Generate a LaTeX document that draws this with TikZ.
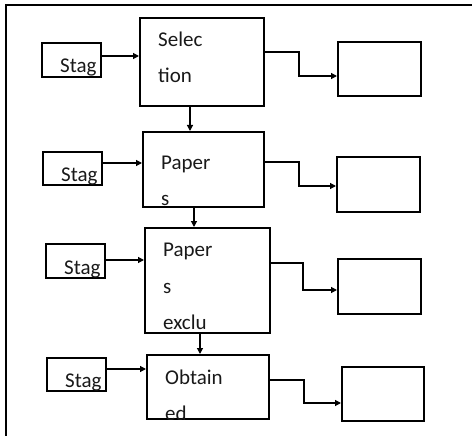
\documentclass[tikz,border=0pt]{standalone}
\usepackage{fontspec}
\setmainfont{Carlito}
\usetikzlibrary{arrows.meta}
\begin{document}
\begin{tikzpicture}[x=1pt,y=-1pt,
  box/.style={draw=black, line width=1.8pt, inner sep=0pt, anchor=north west},
  outbox/.style={draw=black, line width=1.6pt, inner sep=0pt, anchor=north west},
  lbl/.style={inner sep=0pt, anchor=base west, text=black!90,
    font=\fontsize{21}{25}\selectfont},
  arr/.style={draw=black, line width=1.2pt, -{Triangle[length=6pt,width=6pt]}},
  link/.style={draw=black, line width=1.2pt}]
\useasboundingbox (0,0) rectangle (472,436);

% outer frame (top and left edges)
\draw[line width=2pt] (6,437) -- (6,5) -- (473,5);

% stage boxes on the left
\node[box, minimum width=59pt, minimum height=34pt] (st1) at (41,42) {};
\node[box, minimum width=59pt, minimum height=33pt] (st2) at (42,151) {};
\node[box, minimum width=59pt, minimum height=34pt] (st3) at (45,243) {};
\node[box, minimum width=59pt, minimum height=33pt] (st4) at (46,357) {};

% main column
\node[box, minimum width=124pt, minimum height=88pt] (sel) at (139,17) {};
\node[box, minimum width=121pt, minimum height=75pt] (pap) at (142,131) {};
\node[box, minimum width=125pt, minimum height=105pt] (exc) at (144,227) {};
\node[box, minimum width=122pt, minimum height=64pt] (obt) at (146,354) {};

% result boxes on the right
\node[outbox, minimum width=83pt, minimum height=54pt] (r1) at (337,41) {};
\node[outbox, minimum width=83pt, minimum height=55pt] (r2) at (336,156) {};
\node[outbox, minimum width=83pt, minimum height=55pt] (r3) at (337,258) {};
\node[outbox, minimum width=82pt, minimum height=54pt] (r4) at (341,366) {};

% labels, cut off at the edges of their boxes
\begin{scope}
  \clip (st1.north west) rectangle (st1.south east);
  \node[lbl] (ts1) at (60,73) {Stag};
\end{scope}
\begin{scope}
  \clip (st2.north west) rectangle (st2.south east);
  \node[lbl] (ts2) at (61,182) {Stag};
\end{scope}
\begin{scope}
  \clip (st3.north west) rectangle (st3.south east);
  \node[lbl] (ts3) at (64,274) {Stag};
\end{scope}
\begin{scope}
  \clip (st4.north west) rectangle (st4.south east);
  \node[lbl] (ts4) at (65,387) {Stag};
\end{scope}
\begin{scope}
  \clip (sel.north west) rectangle (sel.south east);
  \node[lbl] (tsel1) at (158,47) {Selec};
  \node[lbl] (tsel2) at (158,83) {tion};
\end{scope}
\begin{scope}
  \clip (pap.north west) rectangle (pap.south east);
  \node[lbl] (tpap1) at (161,169) {Paper};
  \node[lbl] (tpap2) at (161,205) {s};
\end{scope}
\begin{scope}
  \clip (exc.north west) rectangle (exc.south east);
  \node[lbl] (texc1) at (163,256) {Paper};
  \node[lbl] (texc2) at (163,293) {s};
  \node[lbl] (texc3) at (163,329) {exclu};
\end{scope}
\begin{scope}
  \clip (obt.north west) rectangle (obt.south east);
  \node[lbl] (tobt1) at (165,384) {Obtain};
  \node[lbl] (tobt2) at (165,420) {ed};
\end{scope}

% stage -> main arrows
\coordinate (h1) at (0,56);
\coordinate (h2) at (0,163);
\coordinate (h3) at (0,260);
\coordinate (h4) at (0,369);
\draw[arr] (st1.east |- h1) -- (sel.west |- h1);
\draw[arr] (st2.east |- h2) -- (pap.west |- h2);
\draw[arr] (st3.east |- h3) -- (exc.west |- h3);
\draw[arr] (st4.east |- h4) -- (obt.west |- h4);

% arrows down the main column
\coordinate (v1) at (190,0);
\coordinate (v2) at (194,0);
\coordinate (v3) at (200,0);
\draw[arr] (v1 |- sel.south) -- (v1 |- pap.north);
\draw[arr] (v2 |- pap.south) -- (v2 |- exc.north);
\draw[arr] (v3 |- exc.south) -- (v3 |- obt.north);

% elbow connectors to the result boxes
\coordinate (k1a) at (299,52);  \coordinate (k1b) at (299,76);
\coordinate (k2a) at (299,162); \coordinate (k2b) at (299,186);
\coordinate (k3a) at (303,263); \coordinate (k3b) at (303,290);
\coordinate (k4a) at (304,380); \coordinate (k4b) at (304,403);
\draw[arr] (sel.east |- k1a) -- (k1a) -- (k1b) -- (r1.west |- k1b);
\draw[arr] (pap.east |- k2a) -- (k2a) -- (k2b) -- (r2.west |- k2b);
\draw[arr] (exc.east |- k3a) -- (k3a) -- (k3b) -- (r3.west |- k3b);
\draw[arr] (obt.east |- k4a) -- (k4a) -- (k4b) -- (r4.west |- k4b);
\end{tikzpicture}
\end{document}
